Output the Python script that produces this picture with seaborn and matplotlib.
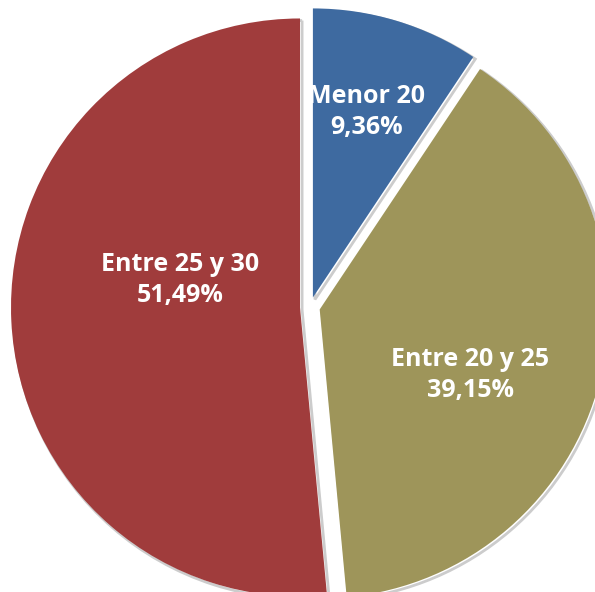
import matplotlib
matplotlib.use("Agg")
import matplotlib.pyplot as plt
import matplotlib.patheffects as pe
import seaborn as sns

# Age-group shares (percent)
categories = ["Menor 20", "Entre 20 y 25", "Entre 25 y 30"]
shares = [9.36, 39.15, 51.49]
share_labels = ["9,36%", "39,15%", "51,49%"]
colors = sns.color_palette(["#3E6AA0", "#9E955A", "#A03C3C"])

sns.set_theme(style="white")
plt.rcParams["font.family"] = ["Open Sans", "DejaVu Sans"]

W, H = 595, 592
fig = plt.figure(figsize=(W / 100, H / 100), dpi=100)
ax = fig.add_axes([0, 0, 1, 1])

center = (310, 285)
radius = 289
wedges, _ = ax.pie(
    shares,
    startangle=90,
    counterclock=False,
    radius=radius,
    center=center,
    explode=[10, 10, 10],
    colors=colors,
    wedgeprops=dict(linewidth=0, edgecolor="none"),
    frame=True,
)
ax.set_xlim(0, W)
ax.set_ylim(0, H)
ax.set_aspect("equal")
ax.axis("off")

for w in wedges:
    w.set_path_effects([
        pe.SimpleLineShadow(offset=(1.5, -1.5), shadow_color="black", alpha=0.2, linewidth=2),
        pe.Normal(),
    ])

# Label anchors relative to the pie centre
label_pos = [(57, 195), (160, -68), (-130, 27)]
for cat, pct, (dx, dy) in zip(categories, share_labels, label_pos):
    ax.text(center[0] + dx, center[1] + dy, f"{cat}\n{pct}",
            ha="center", va="center", color="white", fontsize=18,
            fontweight="bold", linespacing=1.3)

fig.savefig("out.png", dpi=100)
